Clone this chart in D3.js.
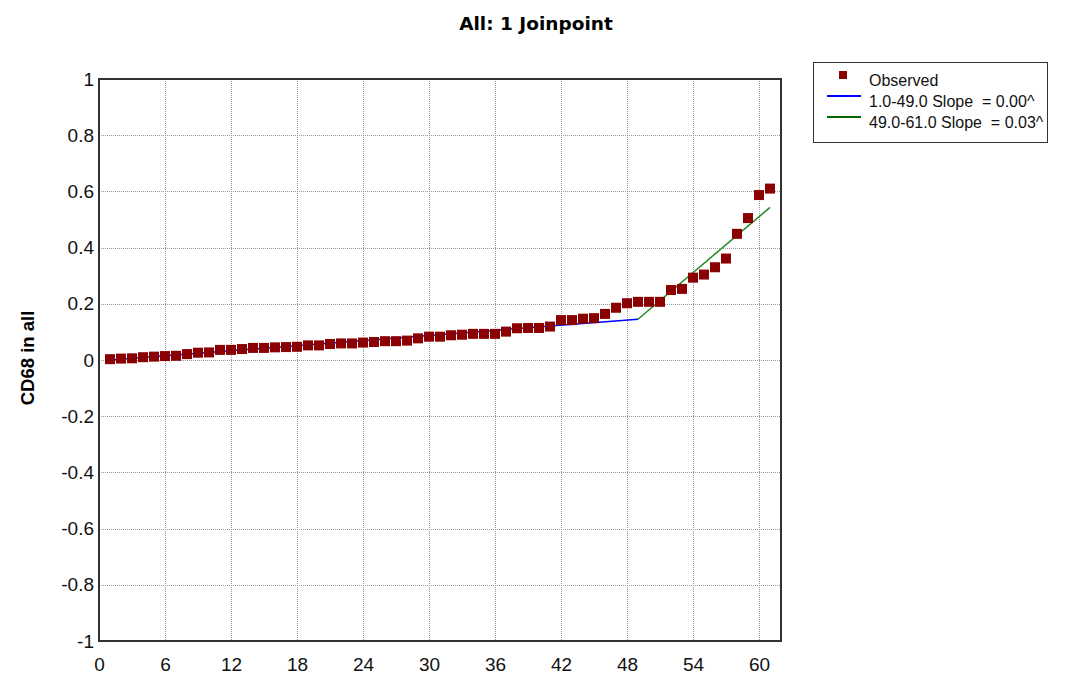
<!DOCTYPE html>
<html><head><meta charset="utf-8">
<script src="https://cdn.jsdelivr.net/npm/d3@7"></script>
<style>body{margin:0;background:#fff;} svg{display:block;} text{white-space:pre;}</style>
</head><body>
<script>
const xValues = d3.range(1, 62);
const observed = [0.003,0.005,0.006,0.010,0.012,0.014,0.015,0.021,0.026,0.027,
  0.036,0.036,0.039,0.043,0.043,0.045,0.046,0.047,0.052,0.052,
  0.057,0.059,0.059,0.062,0.064,0.067,0.067,0.069,0.077,0.083,
  0.083,0.088,0.090,0.093,0.093,0.093,0.101,0.113,0.114,0.114,
  0.119,0.142,0.142,0.147,0.149,0.164,0.186,0.202,0.207,0.207,
  0.207,0.249,0.253,0.293,0.304,0.330,0.361,0.449,0.505,0.587,0.610];
const seg1 = [{x:1,y:0.0},{x:49,y:0.145}];
const seg2 = [{x:49,y:0.145},{x:61,y:0.543}];
const xTicks = [0,6,12,18,24,30,36,42,48,54,60];
const yTicks = [-1,-0.8,-0.6,-0.4,-0.2,0,0.2,0.4,0.6,0.8,1];
const legendLabels = ["Observed","1.0-49.0 Slope  = 0.00^","49.0-61.0 Slope  = 0.03^"];
const title = "All: 1 Joinpoint";
const yLabel = "CD68 in all";

const W=1077,H=688;
const m={left:99,right:781,top:79,bottom:641};
const svg=d3.select("body").append("svg").attr("width",W).attr("height",H);
const x=d3.scaleLinear().domain([0,62]).range([m.left,m.right]);
const y=d3.scaleLinear().domain([-1,1]).range([m.bottom,m.top]);
const font="Liberation Sans, Arial, sans-serif";

// grid
svg.append("g").selectAll("line").data(xTicks.filter(t=>t>0)).join("line")
  .attr("x1",d=>Math.round(x(d))+0.5).attr("x2",d=>Math.round(x(d))+0.5).attr("y1",m.top).attr("y2",m.bottom)
  .attr("stroke","#999").attr("stroke-width",1).attr("stroke-dasharray","1,1");
svg.append("g").selectAll("line").data(yTicks.filter(t=>t>-1&&t<1)).join("line")
  .attr("y1",d=>Math.round(y(d))+0.5).attr("y2",d=>Math.round(y(d))+0.5).attr("x1",m.left).attr("x2",m.right)
  .attr("stroke","#999").attr("stroke-width",1).attr("stroke-dasharray","1,1");

// axes labels via d3 axes
const xAxis=svg.append("g").attr("transform",`translate(0,${m.bottom})`)
  .call(d3.axisBottom(x).tickValues(xTicks).tickSize(0).tickPadding(17).tickFormat(d3.format("d")));
xAxis.select(".domain").remove();
xAxis.selectAll("text").attr("font-family",font).attr("font-size",19).attr("fill","#111");
const yAxis=svg.append("g").attr("transform",`translate(${m.left},0)`)
  .call(d3.axisLeft(y).tickValues(yTicks).tickSize(0).tickPadding(5).tickFormat(d=>String(+d.toFixed(1))));
yAxis.select(".domain").remove();
yAxis.selectAll("text").attr("font-family",font).attr("font-size",19).attr("fill","#111");

// frame
svg.append("rect").attr("x",m.left).attr("y",m.top).attr("width",m.right-m.left).attr("height",m.bottom-m.top)
  .attr("fill","none").attr("stroke","#333").attr("stroke-width",2);

// lines
const line=d3.line().x(d=>x(d.x)).y(d=>y(d.y));
svg.append("path").datum(seg1).attr("d",line).attr("fill","none").attr("stroke","#0000ff").attr("stroke-width",1.5);
svg.append("path").datum(seg2).attr("d",line).attr("fill","none").attr("stroke","#228b22").attr("stroke-width",1.5);

// points
const s=10;
svg.append("g").selectAll("rect").data(xValues).join("rect")
  .attr("x",(d,i)=>x(d)-s/2).attr("y",(d,i)=>y(observed[i])-s/2).attr("width",s).attr("height",s)
  .attr("fill","#8b0000");

// title
svg.append("text").attr("x",536).attr("y",30).attr("text-anchor","middle")
  .attr("font-family","DejaVu Sans, Verdana, sans-serif").attr("font-weight","bold").attr("font-size",18.5).text(title);
// y label
svg.append("text").attr("transform","translate(34,358) rotate(-90)").attr("text-anchor","middle")
  .attr("font-family",font).attr("font-weight","bold").attr("font-size",18.5).text(yLabel);

// legend
const lg=svg.append("g");
lg.append("rect").attr("x",813.5).attr("y",62.5).attr("width",234).attr("height",80).attr("fill","#fff").attr("stroke","#333").attr("stroke-width",1);
lg.append("rect").attr("x",839).attr("y",71).attr("width",8).attr("height",8).attr("fill","#8b0000");
lg.append("line").attr("x1",827).attr("x2",861).attr("y1",96).attr("y2",96).attr("stroke","#0000ff").attr("stroke-width",2);
lg.append("line").attr("x1",827).attr("x2",861).attr("y1",117).attr("y2",117).attr("stroke","#006400").attr("stroke-width",2);
lg.selectAll("text").data(legendLabels).join("text")
  .attr("x",869).attr("y",(d,i)=>86+i*21).attr("font-family",font).attr("font-size",16).attr("fill","#111").text(d=>d);
</script>
</body></html>
